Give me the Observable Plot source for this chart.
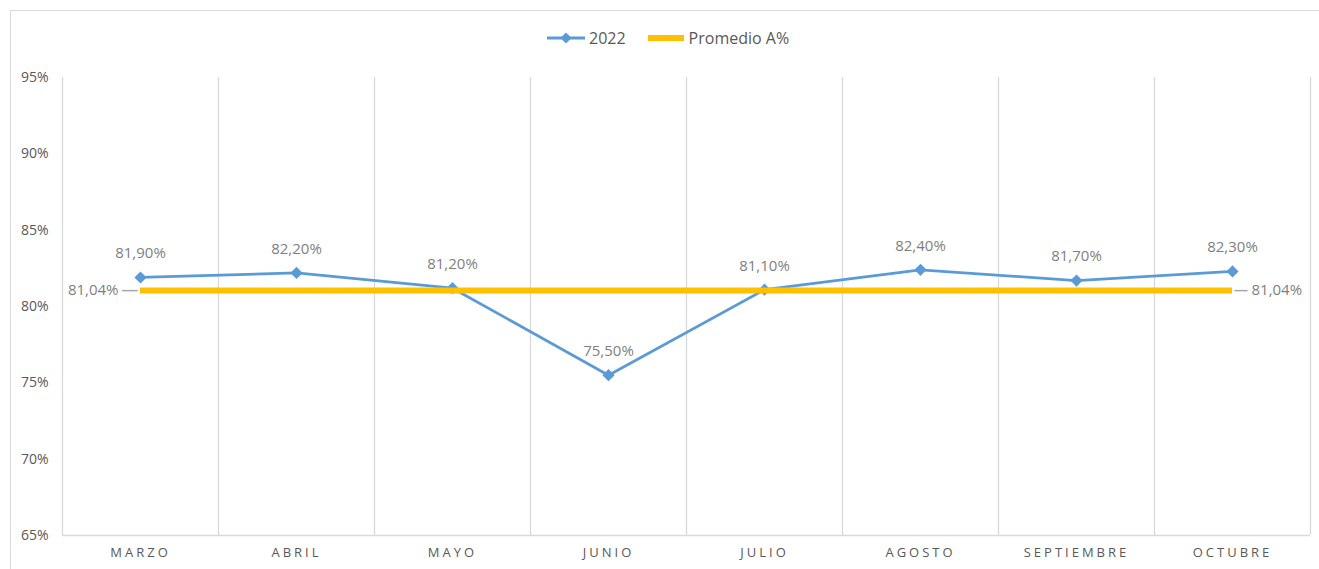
<!DOCTYPE html>
<html><head><meta charset="utf-8">
<script src="https://cdn.jsdelivr.net/npm/d3@7"></script>
<script src="https://cdn.jsdelivr.net/npm/@observablehq/plot@0.6"></script>
<style>
body{margin:0;background:#fff;overflow:hidden;font-family:"Open Sans",sans-serif;}
#wrap{position:relative;width:1319px;height:569px;overflow:hidden;}
#frame{position:absolute;left:10px;top:10px;width:1330px;height:600px;border:1px solid #d9d9d9;box-sizing:border-box;}
#legend{position:absolute;top:27px;left:546px;display:flex;align-items:center;font-size:16px;color:#595959;white-space:nowrap;}
#legend .item{display:flex;align-items:center;}
#legend svg{display:block;}
#chart{position:absolute;left:0;top:60px;}
#chart svg g[aria-label="x-axis tick label"]{font-size:13px !important;}
#chart svg g[aria-label="x-axis tick label"] text{letter-spacing:3px;}
#chart svg g[aria-label="y-axis tick label"]{font-size:14px !important;}
</style>
</head><body>
<div id="wrap">
  <div id="frame"></div>
  <div id="legend"></div>
  <div id="chart"></div>
</div>
<script>
const months = ["MARZO","ABRIL","MAYO","JUNIO","JULIO","AGOSTO","SEPTIEMBRE","OCTUBRE"];
const values2022 = [81.9, 82.2, 81.2, 75.5, 81.1, 82.4, 81.7, 82.3];
const promedio = 81.04;
const yTicks = [65, 70, 75, 80, 85, 90, 95];
const seriesNames = ["2022", "Promedio A%"];
const blue = "#5B9BD5", gold = "#FFC000";

const fmt = v => v.toFixed(2).replace(".", ",") + "%";
const rows = months.map((m, i) => ({pos: i + 0.5, month: m, value: values2022[i]}));
const firstPos = rows[0].pos, lastPos = rows[rows.length - 1].pos;

// legend
const legend = document.getElementById("legend");
legend.innerHTML = `
  <div class="item"><svg width="40" height="20"><line x1="1" x2="39" y1="10" y2="10" stroke="${blue}" stroke-width="3"/><path d="M20,4.5L25.5,10L20,15.5L14.5,10Z" fill="${blue}"/></svg><span style="margin-left:3px">${seriesNames[0]}</span></div>
  <div class="item" style="margin-left:22px"><svg width="36" height="20"><rect x="0" y="7" width="36" height="6" fill="${gold}"/></svg><span style="margin-left:5px">${seriesNames[1]}</span></div>`;

const chart = Plot.plot({
  width: 1319,
  height: 509,
  marginLeft: 62,
  marginRight: 9,
  marginTop: 17,
  marginBottom: 34,
  style: {fontFamily: "'Open Sans', sans-serif", fontSize: "13px", background: "transparent"},
  x: {type: "linear", domain: [0, months.length]},
  y: {domain: [65, 95]},
  marks: [
    Plot.ruleX(d3.range(0, months.length + 1), {y1: 65, y2: 95, stroke: "#d9d9d9", strokeWidth: 1.3, strokeOpacity: 1}),
    Plot.ruleY([65], {stroke: "#d9d9d9", strokeWidth: 1.3, strokeOpacity: 1}),
    Plot.axisY({ticks: yTicks, tickFormat: d => d + "%", tickSize: 0, tickPadding: 14, color: "#595959", fontSize: 14, label: null}),
    Plot.axisX({ticks: rows.map(d => d.pos), tickFormat: d => months[Math.floor(d)], tickSize: 0, tickPadding: 12, color: "#595959", fontSize: 13, label: null}),
    Plot.line(rows, {x: "pos", y: "value", stroke: blue, strokeWidth: 2.75}),
    Plot.dot(rows, {x: "pos", y: "value", symbol: "diamond2", r: 5.5, fill: blue, stroke: "none"}),
    Plot.text(rows, {x: "pos", y: "value", text: d => fmt(d.value), dy: -24, fill: "#7f7f7f", fontSize: 15}),
    Plot.ruleY([promedio], {x1: firstPos, x2: lastPos, stroke: gold, strokeWidth: 6}),
    Plot.ruleY([promedio], {x1: firstPos - 0.115, x2: firstPos - 0.015, stroke: "#a6a6a6", strokeWidth: 1.5}),
    Plot.ruleY([promedio], {x1: lastPos + 0.015, x2: lastPos + 0.1, stroke: "#a6a6a6", strokeWidth: 1.5}),
    Plot.text([promedio], {x: firstPos, y: d => d, text: d => fmt(d), textAnchor: "end", dx: -22, fill: "#7f7f7f", fontSize: 15}),
    Plot.text([promedio], {x: lastPos, y: d => d, text: d => fmt(d), textAnchor: "start", dx: 19, fill: "#7f7f7f", fontSize: 15})
  ]
});
document.getElementById("chart").appendChild(chart);
</script>
</body></html>
